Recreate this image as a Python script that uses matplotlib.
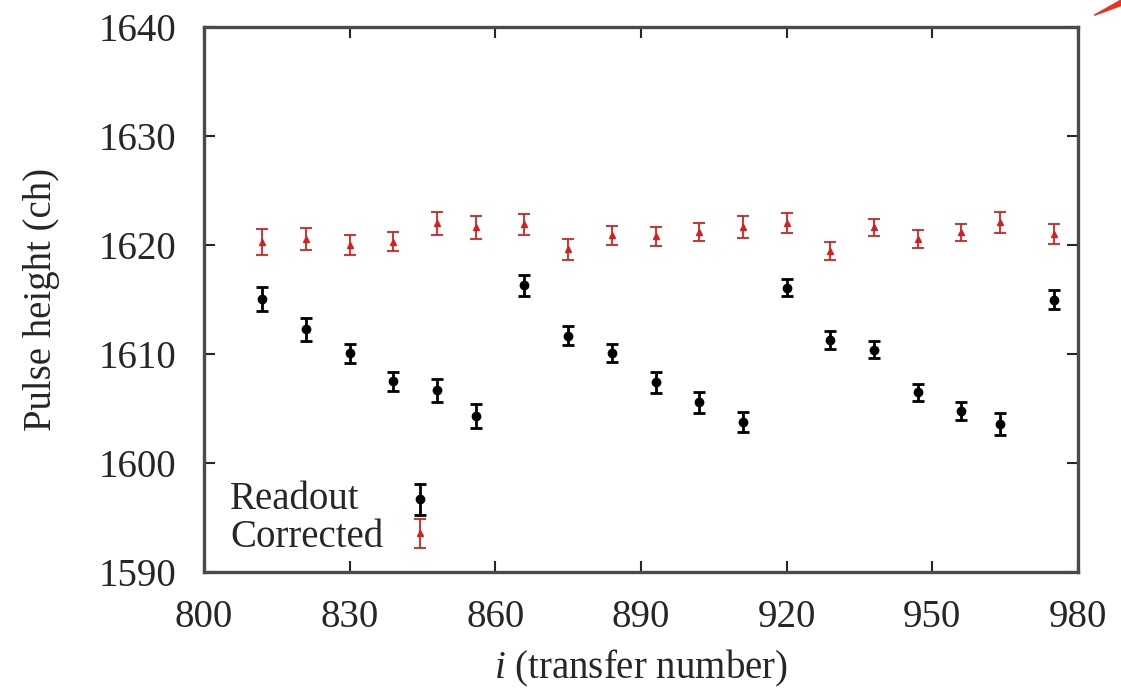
import matplotlib
matplotlib.use("Agg")
import matplotlib.pyplot as plt
from matplotlib.patches import Polygon
from matplotlib.legend_handler import HandlerErrorbar

# Data
transfer = [812, 821, 830, 839, 848, 856, 866, 875, 884, 893,
            902, 911, 920, 929, 938, 947, 956, 964, 975]
readout = [1615.1, 1612.3, 1610.1, 1607.5, 1606.7, 1604.3, 1616.3, 1611.7, 1610.1, 1607.4,
           1605.6, 1603.8, 1616.1, 1611.3, 1610.4, 1606.5, 1604.8, 1603.6, 1615.0]
readout_err = [1.1, 1.05, 0.87, 0.9, 1.05, 1.1, 0.96, 0.85, 0.8, 1.0,
               0.96, 0.92, 0.77, 0.8, 0.78, 0.8, 0.8, 1.0, 0.9]
corrected = [1620.3, 1620.55, 1620.0, 1620.3, 1622.0, 1621.65, 1621.9, 1619.6, 1620.9, 1620.8,
             1621.2, 1621.65, 1622.0, 1619.45, 1621.65, 1620.55, 1621.2, 1622.1, 1621.0]
corrected_err = [1.16, 0.98, 0.9, 0.87, 1.07, 1.05, 1.0, 0.92, 0.9, 0.89,
                 0.84, 1.0, 0.92, 0.84, 0.77, 0.8, 0.78, 0.96, 0.9]

labels = ['Readout', 'Corrected']
xticks = [800, 830, 860, 890, 920, 950, 980]
yticks = [1590, 1600, 1610, 1620, 1630, 1640]

plt.rcParams['font.family'] = ['Liberation Serif', 'DejaVu Serif']
plt.rcParams['mathtext.fontset'] = 'custom'
plt.rcParams['mathtext.it'] = 'Liberation Serif:italic'
plt.rcParams['mathtext.rm'] = 'Liberation Serif'

txt = '#262626'
fs = 28

fig = plt.figure(figsize=(11.21, 6.96), dpi=100)
ax = fig.add_axes([0.182, 0.178, 0.7796, 0.783])

h1 = ax.errorbar(transfer, readout, yerr=readout_err, fmt='o', color='black',
                 ms=6, elinewidth=2.0, capsize=4.5, capthick=2.0)
h2 = ax.errorbar(transfer, corrected, yerr=corrected_err, fmt='^', color='#d62020',
                 ms=4, elinewidth=1.3, capsize=4.5, capthick=1.3)

ax.set_xlim(800, 980)
ax.set_ylim(1590, 1640)
ax.set_xticks(xticks)
ax.set_yticks(yticks)
ax.tick_params(direction='in', length=8, width=1.5, top=True, right=True,
               labelsize=fs, colors=txt)
ax.tick_params(axis='x', pad=19)
ax.tick_params(axis='y', pad=20)
for s in ax.spines.values():
    s.set_linewidth(2.4)
    s.set_color('#4a4a4a')

ax.set_xlabel('$i$ (transfer number)', fontsize=fs, color=txt, labelpad=9)
ax.set_ylabel('Pulse height (ch)', fontsize=fs, color=txt, labelpad=28)

# key: handles drawn by the legend, labels left-justified like the original
leg = ax.legend([h1, h2], ['', ''], loc='center', frameon=False, fontsize=20,
                handlelength=0.6, handletextpad=0, labelspacing=0.32,
                bbox_to_anchor=(0.247, 0.097),
                handler_map={h1: HandlerErrorbar(xerr_size=0.56),
                             h2: HandlerErrorbar(xerr_size=0.52)})
ax.text(0.030, 0.1156, labels[0], transform=ax.transAxes, fontsize=fs,
        color=txt, va='baseline', ha='left')
ax.text(0.030, 0.0459, labels[1], transform=ax.transAxes, fontsize=fs,
        color=txt, va='baseline', ha='left')

# red arrow fragment in the top right corner
fig.patches.append(Polygon([[0.976, 0.978], [1.0, 1.0], [1.0, 0.992]], closed=True,
                           transform=fig.transFigure, color='#e8341c'))

fig.savefig('out.png', dpi=100)
